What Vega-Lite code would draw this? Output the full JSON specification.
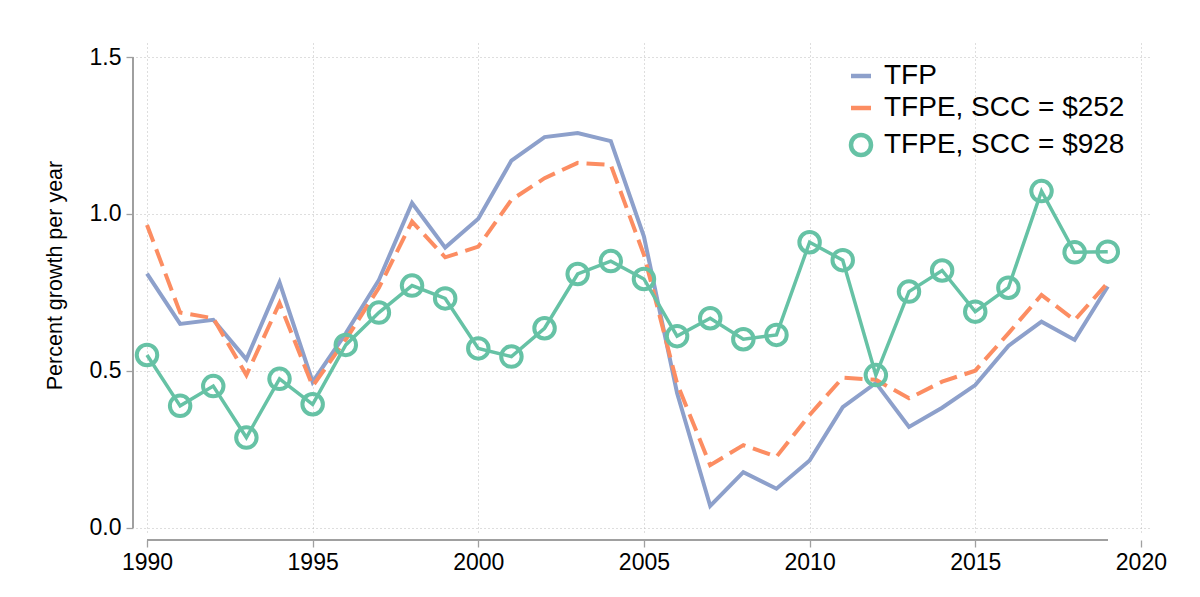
{
  "$schema": "https://vega.github.io/schema/vega-lite/v6.json",
  "autosize": {"type": "none"},
  "width": 1016,
  "height": 490,
  "padding": {"left": 136, "top": 43, "right": 48, "bottom": 64},
  "background": "white",
  "config": {
    "view": {"stroke": null},
    "font": "Liberation Sans",
    "axis": {
      "labelFont": "Liberation Sans",
      "titleFont": "Liberation Sans",
      "labelColor": "#000000",
      "titleColor": "#000000",
      "titleFontWeight": "normal",
      "domain": false,
      "tickColor": "#a0a0a0",
      "tickSize": 7,
      "tickWidth": 1.3,
      "grid": true,
      "gridColor": "#bcbcbc",
      "gridDash": [1, 3],
      "gridWidth": 1
    },
    "legend": {
      "labelFont": "Liberation Sans",
      "labelColor": "#000000"
    }
  },
  "data": {
    "values": [
      {"year": 1990, "TFP": 0.81, "TFPE, SCC = $252": 0.965, "TFPE, SCC = $928": 0.551},
      {"year": 1991, "TFP": 0.65, "TFPE, SCC = $252": 0.686, "TFPE, SCC = $928": 0.389},
      {"year": 1992, "TFP": 0.663, "TFPE, SCC = $252": 0.668, "TFPE, SCC = $928": 0.452},
      {"year": 1993, "TFP": 0.537, "TFPE, SCC = $252": 0.487, "TFPE, SCC = $928": 0.288},
      {"year": 1994, "TFP": 0.782, "TFPE, SCC = $252": 0.716, "TFPE, SCC = $928": 0.475},
      {"year": 1995, "TFP": 0.465, "TFPE, SCC = $252": 0.452, "TFPE, SCC = $928": 0.394},
      {"year": 1996, "TFP": 0.62, "TFPE, SCC = $252": 0.6, "TFPE, SCC = $928": 0.583},
      {"year": 1997, "TFP": 0.79, "TFPE, SCC = $252": 0.765, "TFPE, SCC = $928": 0.686},
      {"year": 1998, "TFP": 1.035, "TFPE, SCC = $252": 0.976, "TFPE, SCC = $928": 0.772},
      {"year": 1999, "TFP": 0.893, "TFPE, SCC = $252": 0.862, "TFPE, SCC = $928": 0.731},
      {"year": 2000, "TFP": 0.985, "TFPE, SCC = $252": 0.896, "TFPE, SCC = $928": 0.572},
      {"year": 2001, "TFP": 1.17, "TFPE, SCC = $252": 1.045, "TFPE, SCC = $928": 0.546},
      {"year": 2002, "TFP": 1.245, "TFPE, SCC = $252": 1.114, "TFPE, SCC = $928": 0.636},
      {"year": 2003, "TFP": 1.258, "TFPE, SCC = $252": 1.163, "TFPE, SCC = $928": 0.809},
      {"year": 2004, "TFP": 1.232, "TFPE, SCC = $252": 1.156, "TFPE, SCC = $928": 0.85},
      {"year": 2005, "TFP": 0.928, "TFPE, SCC = $252": 0.87, "TFPE, SCC = $928": 0.793},
      {"year": 2006, "TFP": 0.43, "TFPE, SCC = $252": 0.46, "TFPE, SCC = $928": 0.611},
      {"year": 2007, "TFP": 0.07, "TFPE, SCC = $252": 0.2, "TFPE, SCC = $928": 0.668},
      {"year": 2008, "TFP": 0.178, "TFPE, SCC = $252": 0.264, "TFPE, SCC = $928": 0.601},
      {"year": 2009, "TFP": 0.125, "TFPE, SCC = $252": 0.227, "TFPE, SCC = $928": 0.615},
      {"year": 2010, "TFP": 0.215, "TFPE, SCC = $252": 0.36, "TFPE, SCC = $928": 0.91},
      {"year": 2011, "TFP": 0.385, "TFPE, SCC = $252": 0.479, "TFPE, SCC = $928": 0.853},
      {"year": 2012, "TFP": 0.462, "TFPE, SCC = $252": 0.472, "TFPE, SCC = $928": 0.487},
      {"year": 2013, "TFP": 0.322, "TFPE, SCC = $252": 0.413, "TFPE, SCC = $928": 0.753},
      {"year": 2014, "TFP": 0.383, "TFPE, SCC = $252": 0.466, "TFPE, SCC = $928": 0.82},
      {"year": 2015, "TFP": 0.455, "TFPE, SCC = $252": 0.501, "TFPE, SCC = $928": 0.689},
      {"year": 2016, "TFP": 0.58, "TFPE, SCC = $252": 0.62, "TFPE, SCC = $928": 0.765},
      {"year": 2017, "TFP": 0.657, "TFPE, SCC = $252": 0.742, "TFPE, SCC = $928": 1.073},
      {"year": 2018, "TFP": 0.599, "TFPE, SCC = $252": 0.662, "TFPE, SCC = $928": 0.878},
      {"year": 2019, "TFP": 0.769, "TFPE, SCC = $252": 0.781, "TFPE, SCC = $928": 0.88}
    ]
  },
  "transform": [
    {"fold": ["TFP", "TFPE, SCC = $252", "TFPE, SCC = $928"], "as": ["series", "value"]}
  ],
  "encoding": {
    "x": {
      "field": "year",
      "type": "quantitative",
      "scale": {"domain": [1989.668, 2020.335], "nice": false, "zero": false},
      "axis": {
        "values": [1990, 1995, 2000, 2005, 2010, 2015, 2020],
        "format": "d",
        "title": null,
        "offset": 7,
        "labelPadding": 4,
        "labelFontSize": 23
      }
    },
    "y": {
      "field": "value",
      "type": "quantitative",
      "scale": {"domain": [-0.016, 1.5446], "nice": false, "zero": false},
      "axis": {
        "values": [0, 0.5, 1, 1.5],
        "format": ".1f",
        "title": "Percent growth per year",
        "offset": 3,
        "labelPadding": 5,
        "labelFontSize": 23,
        "titleFontSize": 21.5,
        "titlePadding": 23,
        "titleY": 232
      }
    }
  },
  "layer": [
    {
      "transform": [{"filter": "datum.series === 'TFP'"}],
      "mark": {"type": "line", "strokeWidth": 4, "strokeJoin": "miter"},
      "encoding": {
        "color": {
          "field": "series",
          "type": "nominal",
          "scale": {
            "domain": ["TFP", "TFPE, SCC = $252", "TFPE, SCC = $928"],
            "range": ["#8da0cb", "#fc8d62", "#66c2a5"]
          },
          "legend": {
            "title": null,
            "orient": "none",
            "legendX": 711,
            "legendY": 19,
            "symbolStrokeWidth": 4.5,
            "symbolSize": 400,
            "labelFontSize": 28,
            "labelLimit": 0,
            "rowPadding": 4,
            "labelOffset": 9
          }
        }
      }
    },
    {
      "transform": [{"filter": "datum.series === 'TFPE, SCC = $252'"}],
      "mark": {"type": "line", "strokeWidth": 4, "strokeDash": [18, 8]},
      "encoding": {
        "color": {"field": "series", "type": "nominal"}
      }
    },
    {
      "transform": [{"filter": "datum.series === 'TFPE, SCC = $928'"}],
      "mark": {"type": "line", "strokeWidth": 3.5},
      "encoding": {
        "color": {"field": "series", "type": "nominal"}
      }
    },
    {
      "transform": [{"filter": "datum.series === 'TFPE, SCC = $928'"}],
      "mark": {"type": "point", "filled": false, "size": 420, "strokeWidth": 4, "opacity": 1},
      "encoding": {
        "color": {"field": "series", "type": "nominal"},
        "shape": {
          "field": "series",
          "type": "nominal",
          "scale": {
            "domain": ["TFP", "TFPE, SCC = $252", "TFPE, SCC = $928"],
            "range": ["stroke", "stroke", "circle"]
          }
        }
      }
    },
    {
      "mark": {"type": "rule", "color": "#a0a0a0", "strokeWidth": 1.3},
      "encoding": {
        "x": {"datum": 1990},
        "x2": {"datum": 2019},
        "y": {"datum": -0.0383}
      }
    },
    {
      "mark": {"type": "rule", "color": "#a0a0a0", "strokeWidth": 1.3},
      "encoding": {
        "x": {"datum": 1989.577},
        "y": {"datum": 0},
        "y2": {"datum": 1.5}
      }
    }
  ]
}
